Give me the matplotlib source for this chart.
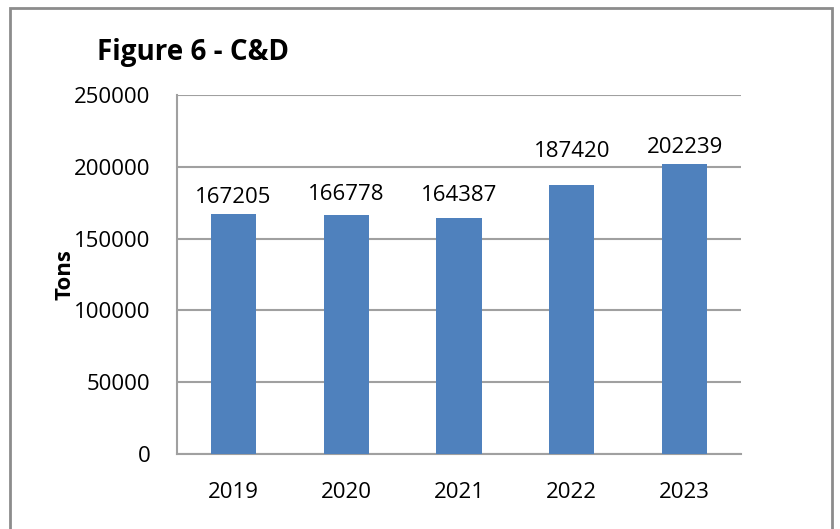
import matplotlib
matplotlib.use("Agg")
import matplotlib.pyplot as plt
from matplotlib.patches import Rectangle

years = ["2019", "2020", "2021", "2022", "2023"]
tons = [167205, 166778, 164387, 187420, 202239]
yticks = [0, 50000, 100000, 150000, 200000, 250000]

plt.rcParams['font.family'] = ['Open Sans', 'DejaVu Sans']

fig = plt.figure(figsize=(8.4, 5.29), dpi=100)
# outer frame
fig.patches.append(Rectangle((10/840, -0.05), (832-10)/840, 1.05 - 8/529,
                             transform=fig.transFigure, fill=False,
                             edgecolor='#8c8c8c', linewidth=2.0))

ax = fig.add_axes([177/840, 1-454/529, (741-177)/840, (454-95)/529])
x = range(len(years))
bars = ax.bar(x, tons, width=0.4, color='#4F81BD', zorder=3)
ax.set_xlim(-0.5, len(years) - 0.5)
ax.set_ylim(0, 250000)
ax.set_yticks(yticks)
ax.set_yticklabels([str(v) for v in yticks], fontsize=16)
ax.set_xticks(list(x))
ax.set_xticklabels(years, fontsize=16)
ax.tick_params(axis='x', length=0, pad=20)
ax.tick_params(axis='y', length=0, pad=19)
ax.yaxis.grid(True, color='#a0a0a0', linewidth=1.5, zorder=0)
for s in ['top', 'right']:
    ax.spines[s].set_visible(False)
for s in ['left', 'bottom']:
    ax.spines[s].set_color('#a0a0a0')
    ax.spines[s].set_linewidth(1.5)

# label offsets (points) as placed in the original chart
label_offsets = [4.3, 6.5, 8.6, 16.6, 4.3]
for xi, v, off in zip(x, tons, label_offsets):
    ax.annotate(str(v), (xi, v), xytext=(0, off), textcoords='offset points',
                ha='center', va='bottom', fontsize=16)

ax.set_ylabel("Tons", fontsize=16, fontweight='bold', labelpad=-1)
fig.text(97/840, 1-60/529, "Figure 6 - C&D", fontsize=20, fontweight='bold',
         ha='left', va='baseline')

fig.savefig("out.png", dpi=100)
